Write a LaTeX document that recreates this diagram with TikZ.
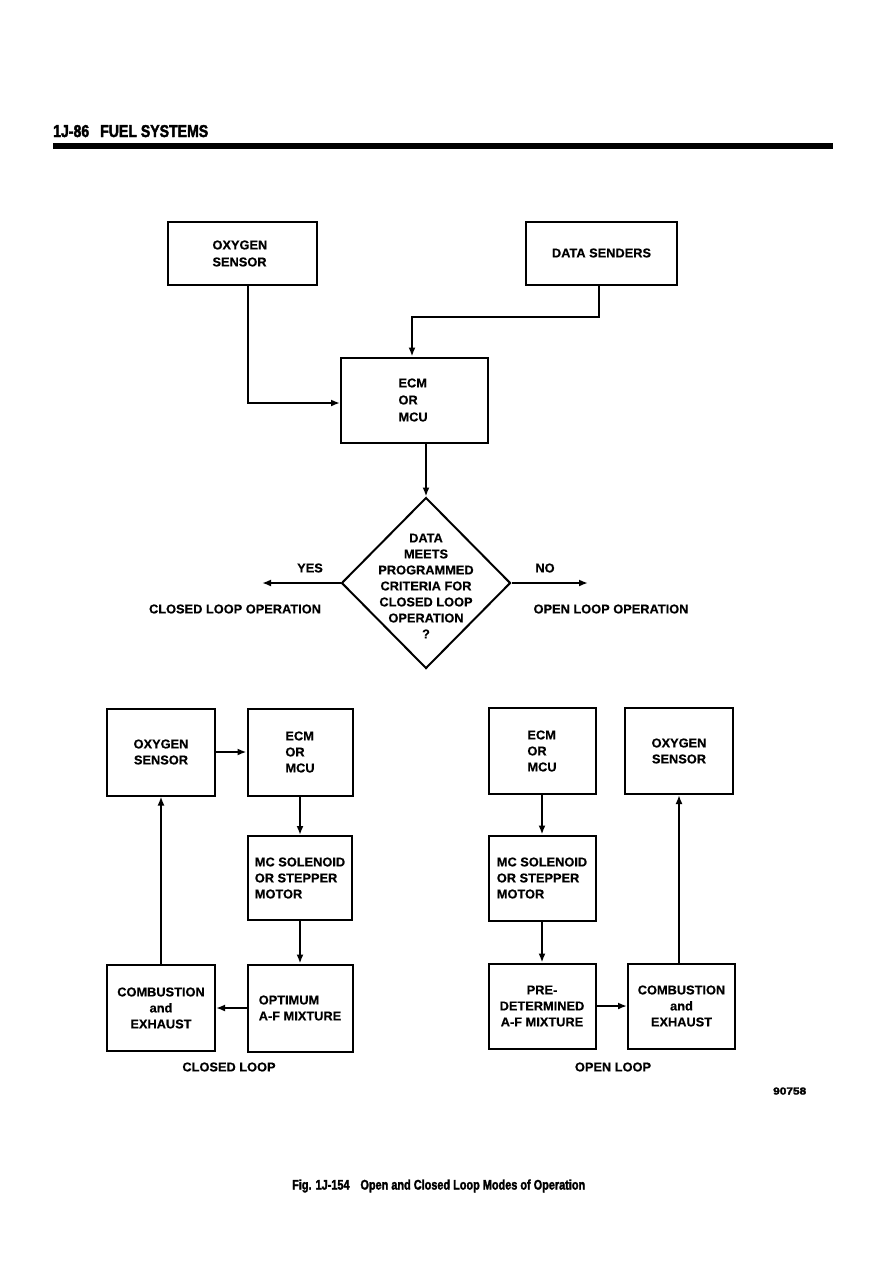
\documentclass[tikz,border=0pt]{standalone}
\usepackage{graphicx}
\usepackage{fontspec}
\setmainfont{Liberation Sans}
\newfontfamily\bodyfont{Liberation Sans}[BoldFeatures={FakeBold=0.4}]
\newfontfamily\heavyfont{Liberation Sans}[BoldFeatures={FakeBold=2.5}]
\usetikzlibrary{arrows.meta,shapes.geometric}
\tikzset{
  box/.style={draw, line width=2pt, rectangle, inner sep=0pt, align=center,
    font=\bodyfont\fontsize{12.8}{16}\selectfont\bfseries},
  lbox/.style={box, align=left},
  topbox/.style={lbox, font=\bodyfont\fontsize{12.8}{17}\selectfont\bfseries},
  conn/.style={line width=2pt, -{Latex[length=9pt,width=7pt]}},
  lbl/.style={inner sep=0pt, font=\bodyfont\fontsize{12.8}{16}\selectfont\bfseries, align=center},
}
\begin{document}
\begin{tikzpicture}[x=1pt,y=-1pt]
\useasboundingbox (0,0) rectangle (893,1263);
\fill[white] (0,0) rectangle (893,1263);

% header
\node[anchor=base west, inner sep=0pt] (hdr) at (53,137)
  {\resizebox{155pt}{12pt}{\heavyfont\bfseries 1J-86\enspace\ FUEL SYSTEMS}};
\fill (53,143) rectangle (833,149);

% top part
\node[topbox, minimum width=149, minimum height=63] (oxy1) at (242.5,253.5) {\raisebox{-2pt}{\parbox{60pt}{OXYGEN\\SENSOR}}};
\node[box, minimum width=151, minimum height=63] (data) at (601.5,253) {DATA SENDERS};
\node[topbox, minimum width=147, minimum height=85] (ecm1) at (414.5,400) {\raisebox{-3pt}{\parbox{32pt}{ECM\\OR\\MCU}}};

\coordinate (k1) at (248,403);
\draw[conn] (oxy1.south -| k1) -- (k1) -- (ecm1.west |- k1);
\coordinate (k2) at (599,317);
\coordinate (k3) at (412,317);
\draw[conn] (data.south -| k2) -- (k2) -- (k3) -- (ecm1.north -| k3);

\node[diamond, draw, line width=2pt, inner sep=0pt, minimum width=169, minimum height=171,
  label={[lbl, yshift=-3pt]center:{DATA\\MEETS\\PROGRAMMED\\CRITERIA FOR\\CLOSED LOOP\\OPERATION\\?}}]
  (dia) at (426,583) {};
\draw[conn] (ecm1.south -| dia.north) -- (dia.north);

\coordinate (yesend) at (262,583);
\coordinate (noend) at (588,583);
\draw[conn] (dia.west) -- (yesend);
\draw[conn] (dia.east) -- (noend);
\node[lbl] (yes) at (310,568) {YES};
\node[lbl] (no) at (545,568) {NO};
\node[lbl] (clop) at (235,609) {CLOSED LOOP OPERATION};
\node[lbl] (olop) at (611,609) {OPEN LOOP OPERATION};

% closed loop (left)
\node[box, minimum width=108, minimum height=87] (Loxy) at (161,752) {OXYGEN\\SENSOR};
\node[lbox, minimum width=105, minimum height=87] (Lecm) at (300,752) {ECM\\OR\\MCU};
\node[lbox, minimum width=104, minimum height=84] (Lmc) at (300,878) {MC SOLENOID\\OR STEPPER\\MOTOR};
\node[lbox, minimum width=105, minimum height=87] (Lopt) at (300,1008) {OPTIMUM\\A-F MIXTURE};
\node[box, minimum width=108, minimum height=86] (Lcomb) at (161,1008) {COMBUSTION\\and\\EXHAUST};

\draw[conn] (Loxy.east) -- (Lecm.west);
\draw[conn] (Lecm.south) -- (Lmc.north);
\draw[conn] (Lmc.south) -- (Lopt.north);
\draw[conn] (Lopt.west) -- (Lcomb.east);
\draw[conn] (Lcomb.north) -- (Loxy.south);
\node[lbl] (cl) at (229,1067) {CLOSED LOOP};

% open loop (right)
\node[lbox, minimum width=107, minimum height=86] (Recm) at (542,751) {ECM\\OR\\MCU};
\node[box, minimum width=108, minimum height=86] (Roxy) at (679,751) {OXYGEN\\SENSOR};
\node[lbox, minimum width=107, minimum height=85] (Rmc) at (542,878) {MC SOLENOID\\OR STEPPER\\MOTOR};
\node[box, minimum width=107, minimum height=85] (Rpre) at (542,1006) {PRE-\\DETERMINED\\A-F MIXTURE};
\node[box, minimum width=107, minimum height=85] (Rcomb) at (681.5,1006) {COMBUSTION\\and\\EXHAUST};

\draw[conn] (Recm.south) -- (Rmc.north);
\draw[conn] (Rmc.south) -- (Rpre.north);
\draw[conn] (Rpre.east) -- (Rcomb.west);
\draw[conn] (Rcomb.north -| Roxy) -- (Roxy.south);
\node[lbl] (ol) at (613,1067) {OPEN LOOP};

% figure number and caption
\node[anchor=base west, inner sep=0pt] (fignum) at (773,1094.5)
  {\resizebox{33pt}{7pt}{\heavyfont\bfseries 90758}};
\node[anchor=base west, inner sep=0pt] (cap) at (292,1189.5)
  {\resizebox{293pt}{10pt}{\heavyfont\bfseries Fig. 1J-154\quad Open and Closed Loop Modes of Operation}};
\end{tikzpicture}
\end{document}
